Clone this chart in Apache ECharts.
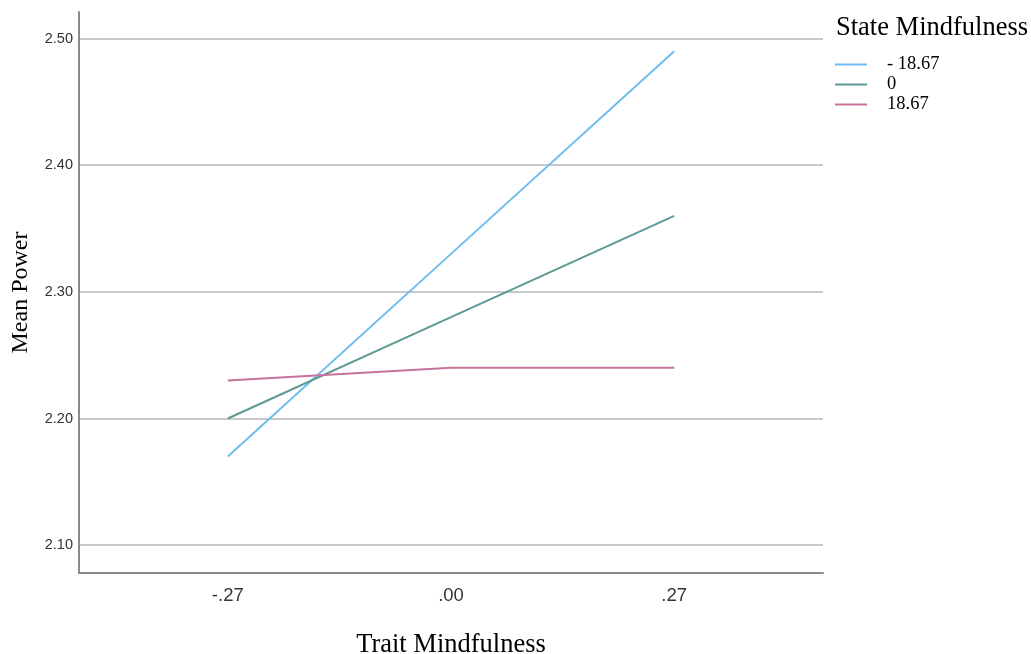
<!DOCTYPE html>
<html><head><meta charset="utf-8">
<script src="https://cdn.jsdelivr.net/npm/echarts@6/dist/echarts.min.js"></script>
<style>html,body{margin:0;padding:0;background:#fff}#c{width:1031px;height:654px}</style>
</head><body><div id="c"></div>
<script>
const traitValues = [-0.27, 0.00, 0.27];
const tickLabels = ['-.27', '.00', '.27'];
const yTicks = [2.10, 2.20, 2.30, 2.40, 2.50];
const seriesNames = ['- 18.67', '0', '18.67'];
const lowState = [2.17, 2.33, 2.49];
const midState = [2.20, 2.28, 2.36];
const highState = [2.23, 2.24, 2.24];
const colors = ['#6cbdee', '#5b9b95', '#c7729a'];

const allSeries = [lowState, midState, highState].map((vals, i) => ({
  name: seriesNames[i], type: 'line', showSymbol: false, symbol: 'none',
  data: traitValues.map((x, j) => [x, vals[j]]),
  lineStyle: { color: colors[i], width: 2 }, itemStyle: { color: colors[i] }
}));

const chart = echarts.init(document.getElementById('c'));
chart.setOption({
  animation: false,
  title: { text: 'State Mindfulness', left: 831, top: 10,
    textStyle: { fontFamily: 'Liberation Serif', fontSize: 26.5, fontWeight: 'normal', color: '#000' } },
  legend: { orient: 'vertical', left: 830, top: 50, itemWidth: 32, itemHeight: 2, itemGap: 1,
    icon: 'rect', data: seriesNames,
    textStyle: { fontFamily: 'Liberation Serif', fontSize: 18.5, color: '#000', padding: [0, 0, 0, 15] } },
  grid: { left: 79, right: 208, top: 12, bottom: 81, outerBoundsMode: 'none', containLabel: false },
  xAxis: { type: 'value', min: -0.45, max: 0.45,
    name: 'Trait Mindfulness', nameLocation: 'middle', nameGap: 59,
    nameTextStyle: { fontFamily: 'Liberation Serif', fontSize: 26.5, color: '#000' },
    axisLine: { show: true, onZero: false, lineStyle: { color: '#8a8a8a', width: 2 } },
    axisTick: { show: false, customValues: traitValues }, splitLine: { show: false },
    axisLabel: { customValues: traitValues, margin: 13,
      formatter: v => tickLabels[traitValues.findIndex(t => Math.abs(t - v) < 1e-6)] || '',
      fontFamily: 'Liberation Sans', fontSize: 18.5, color: '#333' } },
  yAxis: { type: 'value', min: 2.078, max: 2.521,
    name: 'Mean Power', nameLocation: 'middle', nameGap: 46,
    nameTextStyle: { fontFamily: 'Liberation Serif', fontSize: 24, color: '#000' },
    axisLine: { show: true, onZero: false, lineStyle: { color: '#8a8a8a', width: 2 } },
    axisTick: { show: false, customValues: yTicks },
    axisLabel: { customValues: yTicks, formatter: v => v.toFixed(2), margin: 6,
      fontFamily: 'Liberation Sans', fontSize: 14.5, color: '#333' },
    splitLine: { show: true, lineStyle: { color: '#c8c8c8', width: 2 } } },
  series: allSeries
});
</script></body></html>
